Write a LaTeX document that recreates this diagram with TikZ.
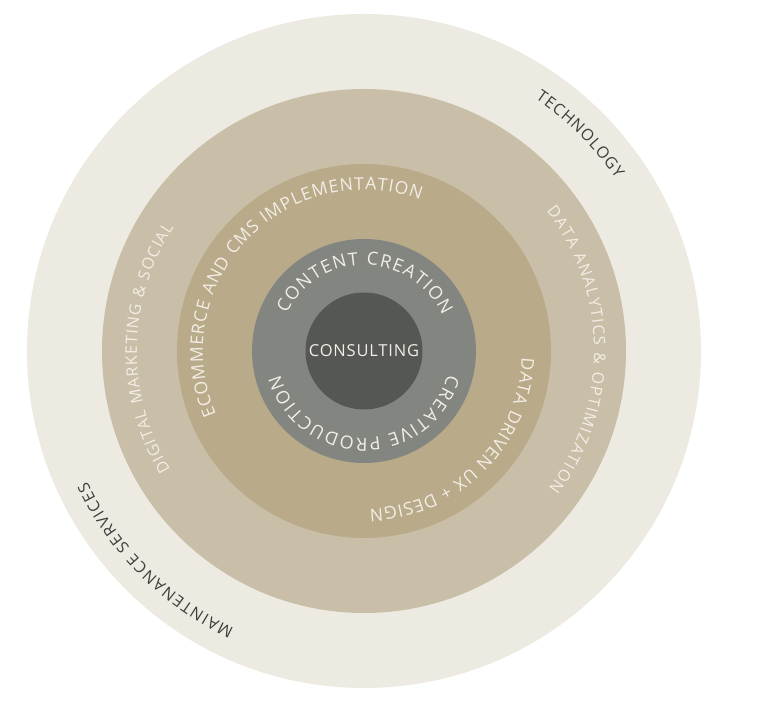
\documentclass[tikz,border=0pt]{standalone}
\usepackage{fontspec}
\setmainfont{Open Sans}
\newfontfamily\osls[LetterSpace=5]{Open Sans}
\usetikzlibrary{decorations.text}
\definecolor{ringA}{HTML}{EDEAE1}
\definecolor{ringB}{HTML}{C9BFA8}
\definecolor{ringC}{HTML}{B9AA8A}
\definecolor{ringD}{HTML}{838680}
\definecolor{ringE}{HTML}{545754}
\definecolor{txtlight}{HTML}{F3EEE5}
\definecolor{txtdark}{HTML}{3E3E3C}
\tikzset{
  disc/.style={circle, inner sep=0pt, draw=none, fill=#1},
  arctext/.style={decorate, decoration={text along path, text={#1}, text align={fit to path}}}
}
\begin{document}
\begin{tikzpicture}[x=1pt,y=1pt]
\useasboundingbox[fill=white] (0,0) rectangle (760,706);
\coordinate (c) at (364,355);
\node[disc=ringA, minimum size=674pt] (outer) at (c) {};
\node[disc=ringB, minimum size=524pt] (second) at (c) {};
\node[disc=ringC, minimum size=374pt] (third) at (c) {};
\node[disc=ringD, minimum size=224pt] (gray) at (c) {};
\node[disc=ringE, minimum size=117pt] (core) at (c) {};
\node[text=txtlight, font=\osls\fontsize{16.5}{17}\selectfont] (consult) at (c) {CONSULTING};
% outer ring
\path[arctext={|\fontsize{16}{16}\selectfont\color{txtdark}|TECHNOLOGY}]
  ([shift={(55.8:305pt)}]c) arc[start angle=55.8, end angle=34.3, radius=305pt];
\path[arctext={|\fontsize{16}{16}\selectfont\color{txtdark}|MAINTENANCE SERVICES}]
  ([shift={(244.9:306pt)}]c) arc[start angle=244.9, end angle=205.3, radius=306pt];
% second ring
\path[arctext={|\fontsize{16}{16}\selectfont\color{txtlight}|DIGITAL MARKETING {\&} SOCIAL}]
  ([shift={(211.5:227pt)}]c) arc[start angle=211.5, end angle=147, radius=227pt];
\path[arctext={|\fontsize{16}{16}\selectfont\color{txtlight}|DATA ANALYTICS {\&} OPTIMIZATION}]
  ([shift={(37.5:230pt)}]c) arc[start angle=37.5, end angle=-36.7, radius=230pt];
% third ring
\path[arctext={|\fontsize{17.5}{17.5}\selectfont\color{txtlight}|ECOMMERCE AND CMS IMPLEMENTATION}]
  ([shift={(203.4:161pt)}]c) arc[start angle=203.4, end angle=69.5, radius=161pt];
\path[arctext={|\fontsize{17.5}{17.5}\selectfont\color{txtlight}|DATA DRIVEN UX + DESIGN}]
  ([shift={(-2.4:158pt)}]c) arc[start angle=-2.4, end angle=-88, radius=158pt];
% gray ring
\path[arctext={|\fontsize{18}{18}\selectfont\color{txtlight}|CONTENT CREATION}]
  ([shift={(154:86pt)}]c) arc[start angle=154, end angle=24.3, radius=86pt];
\path[arctext={|\fontsize{18}{18}\selectfont\color{txtlight}|CREATIVE PRODUCTION}]
  ([shift={(-15.8:87pt)}]c) arc[start angle=-15.8, end angle=-164.4, radius=87pt];
\end{tikzpicture}
\end{document}
